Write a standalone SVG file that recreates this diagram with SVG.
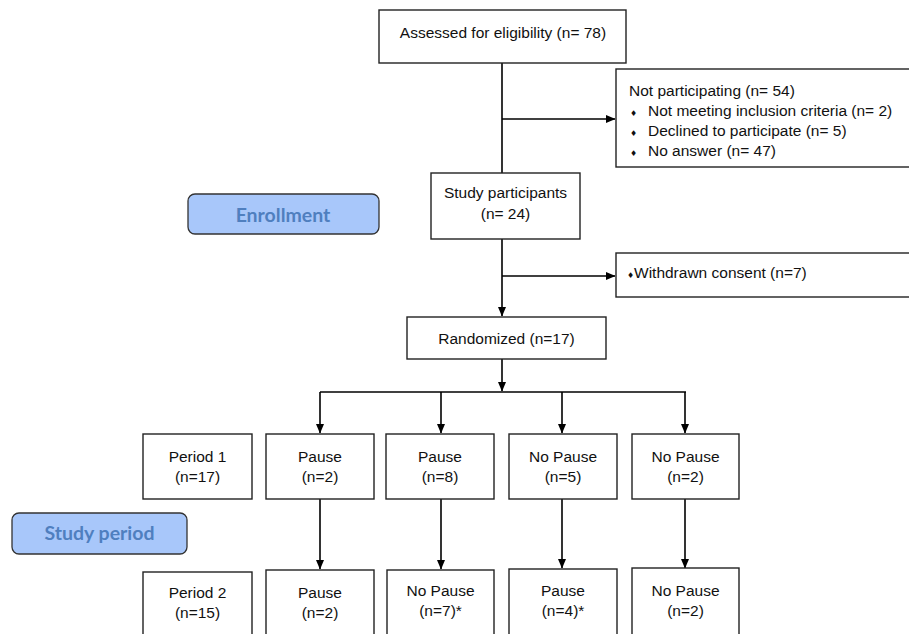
<svg xmlns="http://www.w3.org/2000/svg" width="909" height="634" viewBox="0 0 909 634">
<defs>
<marker id="arr" markerWidth="10" markerHeight="10" refX="9" refY="5" orient="auto" markerUnits="userSpaceOnUse">
<path d="M0,1 L9.5,5 L0,9 Z" fill="#000"/>
</marker>
<style>
.box{fill:#fff;stroke:#222;stroke-width:1.4}
.lbl{font-family:"Liberation Sans",Arial,sans-serif;font-size:15.5px;fill:#111}
.c{text-anchor:middle}
.phase{fill:#a8c7fa;stroke:#333;stroke-width:1.3}
.ptxt{font-family:Lato,"Open Sans",sans-serif;font-weight:bold;font-size:19.5px;fill:#4f7fbf;text-anchor:middle}
.bul{font-family:"DejaVu Sans",sans-serif;font-size:8px}
.ln{stroke:#000;stroke-width:1.6;fill:none}
</style>
</defs>
<rect width="909" height="634" fill="#fff"/>
<g id="connectors">
<path class="ln" d="M502,63 V173"/>
<path class="ln" d="M502,119 H615" marker-end="url(#arr)"/>
<path class="ln" d="M502,239 V316" marker-end="url(#arr)"/>
<path class="ln" d="M502,276 H615" marker-end="url(#arr)"/>
<path class="ln" d="M502,359 V391" marker-end="url(#arr)"/>
<path class="ln" d="M320,392 H686"/>
<path class="ln" d="M320,392 V433" marker-end="url(#arr)"/>
<path class="ln" d="M441,392 V433" marker-end="url(#arr)"/>
<path class="ln" d="M562,392 V433" marker-end="url(#arr)"/>
<path class="ln" d="M685,392 V433" marker-end="url(#arr)"/>
<path class="ln" d="M320,499 V569" marker-end="url(#arr)"/>
<path class="ln" d="M441,499 V569" marker-end="url(#arr)"/>
<path class="ln" d="M562,499 V568" marker-end="url(#arr)"/>
<path class="ln" d="M685,499 V568" marker-end="url(#arr)"/>
</g>
<g id="assessed">
<rect class="box" x="379" y="10" width="247" height="53"/>
<text class="lbl c" x="503" y="38">Assessed for eligibility (n= 78)</text>
</g>
<g id="not-participating">
<rect class="box" x="616" y="69" width="300" height="98"/>
<text class="lbl" x="629" y="96">Not participating (n= 54)</text>
<text class="lbl" y="116"><tspan class="bul" x="630">♦</tspan><tspan x="648">Not meeting inclusion criteria (n= 2)</tspan></text>
<text class="lbl" y="136"><tspan class="bul" x="630">♦</tspan><tspan x="648">Declined to participate (n= 5)</tspan></text>
<text class="lbl" y="156"><tspan class="bul" x="630">♦</tspan><tspan x="648">No answer (n= 47)</tspan></text>
</g>
<g id="enrollment">
<rect class="phase" x="188" y="194" width="191" height="40" rx="7"/>
<text class="ptxt" x="283" y="222">Enrollment</text>
</g>
<g id="study-participants">
<rect class="box" x="431" y="173" width="149" height="66"/>
<text class="lbl c" x="505.5" y="198">Study participants</text>
<text class="lbl c" x="505.5" y="219">(n= 24)</text>
</g>
<g id="withdrawn">
<rect class="box" x="616" y="253" width="300" height="44"/>
<text class="lbl" y="278"><tspan class="bul" x="627">♦</tspan><tspan x="634">Withdrawn consent (n=7)</tspan></text>
</g>
<g id="randomized">
<rect class="box" x="407" y="317" width="199" height="42"/>
<text class="lbl c" x="506.5" y="344">Randomized (n=17)</text>
</g>
<g id="period1">
<rect class="box" x="143" y="434" width="109" height="65"/>
<text class="lbl c" x="197.5" y="462">Period 1</text>
<text class="lbl c" x="197.5" y="482">(n=17)</text>
</g>
<g id="p1-a">
<rect class="box" x="266" y="434" width="108" height="65"/>
<text class="lbl c" x="320" y="462">Pause</text>
<text class="lbl c" x="320" y="482">(n=2)</text>
</g>
<g id="p1-b">
<rect class="box" x="386" y="434" width="108" height="65"/>
<text class="lbl c" x="440" y="462">Pause</text>
<text class="lbl c" x="440" y="482">(n=8)</text>
</g>
<g id="p1-c">
<rect class="box" x="509" y="434" width="108" height="65"/>
<text class="lbl c" x="563" y="462">No Pause</text>
<text class="lbl c" x="563" y="482">(n=5)</text>
</g>
<g id="p1-d">
<rect class="box" x="632" y="434" width="107" height="65"/>
<text class="lbl c" x="685.5" y="462">No Pause</text>
<text class="lbl c" x="685.5" y="482">(n=2)</text>
</g>
<g id="studyperiod">
<rect class="phase" x="12" y="513" width="175" height="41" rx="7"/>
<text class="ptxt" x="99.5" y="540">Study period</text>
</g>
<g id="period2">
<rect class="box" x="143" y="572" width="109" height="70"/>
<text class="lbl c" x="197.5" y="598">Period 2</text>
<text class="lbl c" x="197.5" y="618">(n=15)</text>
</g>
<g id="p2-a">
<rect class="box" x="266" y="570" width="108" height="70"/>
<text class="lbl c" x="320" y="598">Pause</text>
<text class="lbl c" x="320" y="618">(n=2)</text>
</g>
<g id="p2-b">
<rect class="box" x="387" y="570" width="107" height="70"/>
<text class="lbl c" x="440.5" y="596">No Pause</text>
<text class="lbl c" x="440.5" y="616">(n=7)*</text>
</g>
<g id="p2-c">
<rect class="box" x="509" y="569" width="108" height="70"/>
<text class="lbl c" x="563" y="596">Pause</text>
<text class="lbl c" x="563" y="616">(n=4)*</text>
</g>
<g id="p2-d">
<rect class="box" x="632" y="568" width="107" height="70"/>
<text class="lbl c" x="685.5" y="596">No Pause</text>
<text class="lbl c" x="685.5" y="616">(n=2)</text>
</g>
</svg>
